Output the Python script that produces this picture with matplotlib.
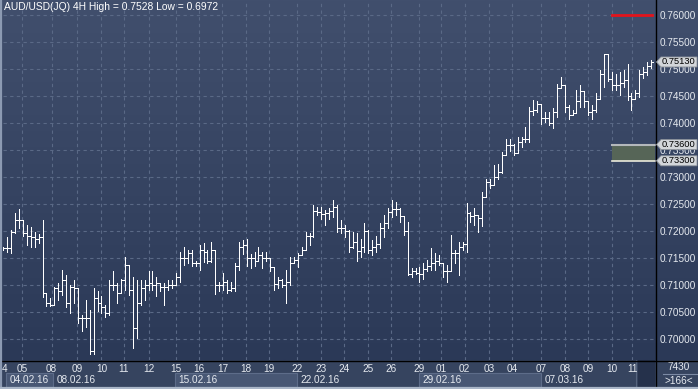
import numpy as np
import matplotlib
matplotlib.use("Agg")
import matplotlib.pyplot as plt
from matplotlib.patches import Rectangle, Polygon
from matplotlib.lines import Line2D
from matplotlib.transforms import IdentityTransform, blended_transform_factory
from matplotlib.colors import LinearSegmentedColormap

# ---------------- data ----------------
opens = [0.7166, 0.7168, 0.7168, 0.7199, 0.7220, 0.7220, 0.7196, 0.7191, 0.7189, 0.7186,
         0.7189, 0.7085, 0.7066, 0.7063, 0.7094, 0.7088, 0.7109, 0.7066, 0.7097, 0.7094,
         0.7038, 0.7038, 0.7038, 0.6978, 0.7075, 0.7066, 0.7060, 0.7048, 0.7100, 0.7100,
         0.7085, 0.7109, 0.7137, 0.7091, 0.7020, 0.7067, 0.7094, 0.7100, 0.7103, 0.7100,
         0.7103, 0.7097, 0.7097, 0.7100, 0.7100, 0.7115, 0.7150, 0.7150, 0.7160, 0.7140,
         0.7140, 0.7165, 0.7162, 0.7145, 0.7165, 0.7100, 0.7100, 0.7106, 0.7090, 0.7095,
         0.7135, 0.7170, 0.7174, 0.7150, 0.7150, 0.7145, 0.7155, 0.7150, 0.7150, 0.7133,
         0.7102, 0.7110, 0.7100, 0.7105, 0.7140, 0.7146, 0.7155, 0.7165, 0.7190, 0.7190,
         0.7237, 0.7235, 0.7232, 0.7233, 0.7237, 0.7245, 0.7205, 0.7205, 0.7200, 0.7170,
         0.7180, 0.7163, 0.7170, 0.7200, 0.7165, 0.7170, 0.7175, 0.7205, 0.7215, 0.7235,
         0.7240, 0.7240, 0.7228, 0.7200, 0.7120, 0.7125, 0.7122, 0.7120, 0.7130, 0.7135,
         0.7140, 0.7145, 0.7140, 0.7125, 0.7125, 0.7160, 0.7160, 0.7170, 0.7175, 0.7233,
         0.7228, 0.7230, 0.7225, 0.7263, 0.7290, 0.7285, 0.7300, 0.7310, 0.7340, 0.7360,
         0.7360, 0.7345, 0.7365, 0.7370, 0.7370, 0.7422, 0.7425, 0.7435, 0.7410, 0.7410,
         0.7400, 0.7420, 0.7465, 0.7470, 0.7430, 0.7415, 0.7418, 0.7440, 0.7460, 0.7440,
         0.7420, 0.7425, 0.7445, 0.7490, 0.7527, 0.7482, 0.7470, 0.7470, 0.7475, 0.7480,
         0.7450, 0.7445, 0.7455, 0.7490, 0.7495, 0.7505]
highs = [0.7171, 0.7189, 0.7202, 0.7233, 0.7240, 0.7220, 0.7211, 0.7208, 0.7199, 0.7194,
         0.7220, 0.7085, 0.7075, 0.7097, 0.7103, 0.7128, 0.7118, 0.7100, 0.7109, 0.7094,
         0.7044, 0.7072, 0.7054, 0.7094, 0.7088, 0.7080, 0.7063, 0.7109, 0.7125, 0.7103,
         0.7112, 0.7152, 0.7137, 0.7115, 0.7109, 0.7109, 0.7109, 0.7125, 0.7125, 0.7115,
         0.7103, 0.7103, 0.7109, 0.7109, 0.7122, 0.7162, 0.7171, 0.7165, 0.7165, 0.7145,
         0.7174, 0.7177, 0.7165, 0.7180, 0.7165, 0.7106, 0.7122, 0.7109, 0.7106, 0.7140,
         0.7180, 0.7183, 0.7186, 0.7158, 0.7162, 0.7171, 0.7162, 0.7162, 0.7150, 0.7133,
         0.7115, 0.7112, 0.7128, 0.7152, 0.7152, 0.7159, 0.7171, 0.7199, 0.7196, 0.7248,
         0.7245, 0.7245, 0.7239, 0.7242, 0.7257, 0.7248, 0.7220, 0.7211, 0.7202, 0.7199,
         0.7196, 0.7186, 0.7214, 0.7202, 0.7183, 0.7190, 0.7214, 0.7230, 0.7242, 0.7257,
         0.7253, 0.7242, 0.7228, 0.7217, 0.7131, 0.7131, 0.7134, 0.7140, 0.7146, 0.7168,
         0.7159, 0.7155, 0.7140, 0.7137, 0.7192, 0.7165, 0.7180, 0.7180, 0.7251, 0.7236,
         0.7242, 0.7230, 0.7273, 0.7297, 0.7297, 0.7322, 0.7325, 0.7347, 0.7371, 0.7371,
         0.7362, 0.7374, 0.7374, 0.7393, 0.7430, 0.7442, 0.7440, 0.7435, 0.7421, 0.7421,
         0.7427, 0.7473, 0.7486, 0.7470, 0.7433, 0.7424, 0.7461, 0.7470, 0.7458, 0.7440,
         0.7433, 0.7455, 0.7498, 0.7528, 0.7528, 0.7495, 0.7490, 0.7495, 0.7498, 0.7510,
         0.7455, 0.7461, 0.7498, 0.7504, 0.7513, 0.7517]
lows = [0.7164, 0.7162, 0.7160, 0.7196, 0.7205, 0.7191, 0.7174, 0.7171, 0.7170, 0.7177,
        0.7078, 0.7061, 0.7061, 0.7063, 0.7072, 0.7081, 0.7060, 0.7049, 0.7066, 0.7030,
        0.7015, 0.7023, 0.6972, 0.6972, 0.7051, 0.7049, 0.7041, 0.7044, 0.7091, 0.7066,
        0.7085, 0.7091, 0.7081, 0.6983, 0.7001, 0.7063, 0.7072, 0.7091, 0.7090, 0.7080,
        0.7088, 0.7063, 0.7091, 0.7094, 0.7100, 0.7106, 0.7137, 0.7140, 0.7135, 0.7135,
        0.7128, 0.7143, 0.7140, 0.7143, 0.7083, 0.7088, 0.7091, 0.7085, 0.7088, 0.7088,
        0.7128, 0.7158, 0.7135, 0.7132, 0.7135, 0.7145, 0.7132, 0.7144, 0.7125, 0.7091,
        0.7094, 0.7096, 0.7067, 0.7100, 0.7140, 0.7134, 0.7155, 0.7165, 0.7174, 0.7189,
        0.7230, 0.7222, 0.7211, 0.7222, 0.7226, 0.7199, 0.7196, 0.7189, 0.7162, 0.7168,
        0.7144, 0.7152, 0.7162, 0.7159, 0.7155, 0.7162, 0.7168, 0.7189, 0.7205, 0.7226,
        0.7230, 0.7217, 0.7192, 0.7118, 0.7115, 0.7120, 0.7106, 0.7112, 0.7125, 0.7128,
        0.7128, 0.7137, 0.7115, 0.7106, 0.7125, 0.7140, 0.7118, 0.7165, 0.7162, 0.7217,
        0.7211, 0.7199, 0.7209, 0.7263, 0.7280, 0.7285, 0.7297, 0.7307, 0.7340, 0.7349,
        0.7341, 0.7345, 0.7356, 0.7365, 0.7365, 0.7414, 0.7421, 0.7399, 0.7402, 0.7396,
        0.7390, 0.7411, 0.7464, 0.7420, 0.7408, 0.7415, 0.7418, 0.7430, 0.7430, 0.7414,
        0.7408, 0.7420, 0.7445, 0.7467, 0.7477, 0.7461, 0.7461, 0.7451, 0.7467, 0.7442,
        0.7424, 0.7445, 0.7449, 0.7483, 0.7489, 0.7501]
closes = [0.7168, 0.7168, 0.7199, 0.7220, 0.7220, 0.7196, 0.7191, 0.7189, 0.7186, 0.7189,
          0.7085, 0.7066, 0.7063, 0.7094, 0.7088, 0.7109, 0.7066, 0.7097, 0.7094, 0.7038,
          0.7038, 0.7038, 0.6978, 0.7075, 0.7066, 0.7060, 0.7048, 0.7100, 0.7100, 0.7085,
          0.7109, 0.7137, 0.7091, 0.7020, 0.7067, 0.7094, 0.7100, 0.7103, 0.7100, 0.7103,
          0.7097, 0.7097, 0.7100, 0.7100, 0.7115, 0.7150, 0.7150, 0.7160, 0.7140, 0.7140,
          0.7165, 0.7162, 0.7145, 0.7165, 0.7100, 0.7100, 0.7106, 0.7090, 0.7095, 0.7135,
          0.7170, 0.7174, 0.7150, 0.7150, 0.7145, 0.7155, 0.7150, 0.7150, 0.7133, 0.7102,
          0.7110, 0.7100, 0.7105, 0.7140, 0.7146, 0.7155, 0.7165, 0.7190, 0.7190, 0.7237,
          0.7235, 0.7232, 0.7233, 0.7237, 0.7245, 0.7205, 0.7205, 0.7200, 0.7170, 0.7180,
          0.7163, 0.7170, 0.7200, 0.7165, 0.7170, 0.7175, 0.7205, 0.7215, 0.7235, 0.7240,
          0.7240, 0.7228, 0.7200, 0.7120, 0.7125, 0.7122, 0.7120, 0.7130, 0.7135, 0.7140,
          0.7145, 0.7140, 0.7125, 0.7125, 0.7160, 0.7160, 0.7170, 0.7175, 0.7233, 0.7228,
          0.7230, 0.7225, 0.7263, 0.7290, 0.7285, 0.7300, 0.7310, 0.7340, 0.7360, 0.7360,
          0.7345, 0.7365, 0.7370, 0.7370, 0.7422, 0.7425, 0.7435, 0.7410, 0.7410, 0.7400,
          0.7420, 0.7465, 0.7470, 0.7430, 0.7415, 0.7418, 0.7440, 0.7460, 0.7440, 0.7420,
          0.7425, 0.7445, 0.7490, 0.7527, 0.7482, 0.7470, 0.7470, 0.7475, 0.7480, 0.7450,
          0.7445, 0.7455, 0.7490, 0.7495, 0.7505, 0.7513]

day_labels = ["4", "05", "08", "09", "10", "11", "12", "15", "16", "17", "18", "19",
              "22", "23", "24", "25", "26", "29", "01", "02", "03", "04",
              "07", "08", "09", "10", "11"]
day_idx = [0.4, 4.7, 12.3, 18.8, 25.0, 30.7, 37.1, 43.9, 49.8, 55.8, 61.9, 67.6,
           74.7, 81.0, 86.9, 92.8, 98.7, 105.8, 111.6, 117.5, 123.8, 129.7,
           137.0, 143.1, 148.9, 155.1, 160.2]
week_labels = ["04.02.16", "08.02.16", "15.02.16", "22.02.16", "29.02.16", "07.03.16"]
week_start_idx = [0.7, 12.7, 43.7, 74.8, 105.9, 137.0]
week_end_idx = 161.5
price_ticks = [0.700, 0.705, 0.710, 0.715, 0.720, 0.725, 0.730,
               0.735, 0.740, 0.745, 0.750, 0.755, 0.760]
last_price = 0.7513
zone_top = 0.7360
zone_bottom = 0.7330
red_level = 0.7600
title = "AUD/USD(JQ) 4H High = 0.7528 Low = 0.6972"
corner_top = "7430"
corner_bottom = ">166<"

# ---------------- layout ----------------
W, H = 698, 389
fig = plt.figure(figsize=(W / 100, H / 100), dpi=100)
fig.patch.set_facecolor('#36445f')
FONT = 'Liberation Sans'
FS = 7.2
TXT = '#e6eaf0'


def fx(px):
    return px / W


def fy(py):
    return 1 - py / H


# gradient background (plot + right price panel)
bg = fig.add_axes([0, fy(360), 1, 360 / H], zorder=0)
cmap = LinearSegmentedColormap.from_list('g', ['#2b3957', '#414f6d'])
bg.imshow(np.linspace(0, 1, 256).reshape(-1, 1), aspect='auto', cmap=cmap,
          origin='lower', extent=[0, 1, 0, 1])
bg.set_axis_off()

ax = fig.add_axes([fx(3), fy(360), fx(652), 360 / H], zorder=2)
ax.patch.set_alpha(0)
n = len(closes)
x = np.arange(n)
ax.set_xlim(-0.08, n)
ax.set_ylim(0.696111, 0.762778)
for s in ax.spines.values():
    s.set_visible(False)

# grid
grid_kw = dict(color='#5a6986', lw=0.8, linestyles=(0, (3, 3)), zorder=1)
ax.hlines(price_ticks, -0.08, n, **grid_kw)
ax.vlines(day_idx[1:], 0.696111, 0.762778, **grid_kw)

# OHLC bars
bar_kw = dict(color='white', lw=0.72, antialiased=False, zorder=3)
ax.vlines(x, lows, highs, **bar_kw)
ax.hlines(opens, x - 0.6, x, **bar_kw)
ax.hlines(closes, x, x + 0.6, **bar_kw)

# y axis on the right
ax.set_xticks([])
ax.yaxis.tick_right()
ax.set_yticks(price_ticks)
ax.set_yticklabels([f"{p:.5f}" for p in price_ticks], fontfamily=FONT)
ax.tick_params(axis='y', length=0, pad=3.0, labelsize=FS, colors=TXT)

# title
fig.text(fx(4), fy(7.5), title, fontsize=FS + 0.2, color='white', fontfamily=FONT,
         va='center', ha='left', zorder=10)

# red level line and zone (x in figure, y in data)
bt = blended_transform_factory(fig.transFigure, ax.transData)
ax.add_line(Line2D([fx(612), fx(652)], [red_level, red_level], color='#e3141c',
                   lw=2.0, transform=bt, clip_on=False, zorder=5))
ax.add_patch(Rectangle((fx(612), zone_bottom), fx(655) - fx(612), zone_top - zone_bottom,
                       facecolor='#566557', edgecolor='none', transform=bt,
                       clip_on=False, zorder=4))
ax.add_line(Line2D([fx(612), fx(655)], [zone_top, zone_top], color='#b4b8bc',
                   lw=1.5, transform=bt, clip_on=False, zorder=5))
ax.add_line(Line2D([fx(612), fx(655)], [zone_bottom, zone_bottom], color='#ecebdc',
                   lw=1.2, transform=bt, clip_on=False, zorder=5))

# x-axis band
band = fig.add_axes([fx(3), 0, fx(652), 29 / H], zorder=1)
band.set_xlim(-0.08, n)
band.set_ylim(0, 29)
band.set_facecolor('#36445f')
band.set_xticks([])
band.set_yticks([])
for s in band.spines.values():
    s.set_visible(False)
ends = week_start_idx[1:] + [week_end_idx]
for i, (lab, s0, s1) in enumerate(zip(week_labels, week_start_idx, ends)):
    if i % 2 == 0:
        band.add_patch(Rectangle((s0, 2), s1 - s0, 14, facecolor='#485774',
                                 edgecolor='#5d6c89', lw=0.8))
    band.text(s0 + 0.8, 9, lab, fontsize=FS, color=TXT, fontfamily=FONT,
              va='center', ha='left')
for lab, p in zip(day_labels, day_idx):
    band.text(p, 20.5, lab, fontsize=FS, color=TXT, fontfamily=FONT,
              va='center', ha='center')
band.add_patch(Rectangle((161.7, 0), n - 161.7, 29, facecolor='#25314b', edgecolor='none'))
band.axvline(161.2, color='#56647e', lw=0.8)

# right-bottom corner panel
fig.add_artist(Rectangle((fx(655), 0), 1 - fx(655), 29 / H, transform=fig.transFigure,
                         facecolor='#36445f', edgecolor='none', zorder=1))
fig.text(fx(679), fy(367), corner_top, fontsize=FS, color=TXT, fontfamily=FONT,
         ha='center', va='center', zorder=10)
fig.add_artist(Line2D([fx(663), fx(697)], [fy(374), fy(374)], color='#7c8aa4', lw=0.8,
                      transform=fig.transFigure, zorder=10))
fig.text(fx(679), fy(381.5), corner_bottom, fontsize=FS, color=TXT, fontfamily=FONT,
         ha='center', va='center', zorder=10)

# black separators
fig.add_artist(Line2D([fx(655.5), fx(655.5)], [0, 1], color='black', lw=1.0,
                      transform=fig.transFigure, zorder=11))
fig.add_artist(Line2D([0, 1], [fy(360.5), fy(360.5)], color='black', lw=1.0,
                      transform=fig.transFigure, zorder=11))
# light outer border (left and bottom)
fig.add_artist(Line2D([fx(1), fx(1)], [0, 1], color='#8c9ab2', lw=1.6,
                      transform=fig.transFigure, zorder=12))
fig.add_artist(Line2D([0, 1], [fy(388), fy(388)], color='#aab6c8', lw=1.6,
                      transform=fig.transFigure, zorder=12))

# price tags
fig.canvas.draw()


def tag(price, label):
    yp = ax.transData.transform((0, price))[1]
    hh = 5.0
    pts = [(656.5, yp), (661, yp + hh), (697, yp + hh), (697, yp - hh), (661, yp - hh)]
    fig.add_artist(Polygon(pts, closed=True, transform=IdentityTransform(),
                           facecolor='#d3d6da', edgecolor='#8d939b', lw=0.6, zorder=20))
    fig.text(679.0, yp, label, transform=IdentityTransform(), fontsize=FS - 0.5,
             color='black', fontfamily=FONT, ha='center', va='center', zorder=21)


tag(last_price, f"{last_price:.5f}")
tag(zone_top, f"{zone_top:.5f}")
tag(zone_bottom, f"{zone_bottom:.5f}")

fig.savefig('out.png', dpi=100, facecolor=fig.get_facecolor())
